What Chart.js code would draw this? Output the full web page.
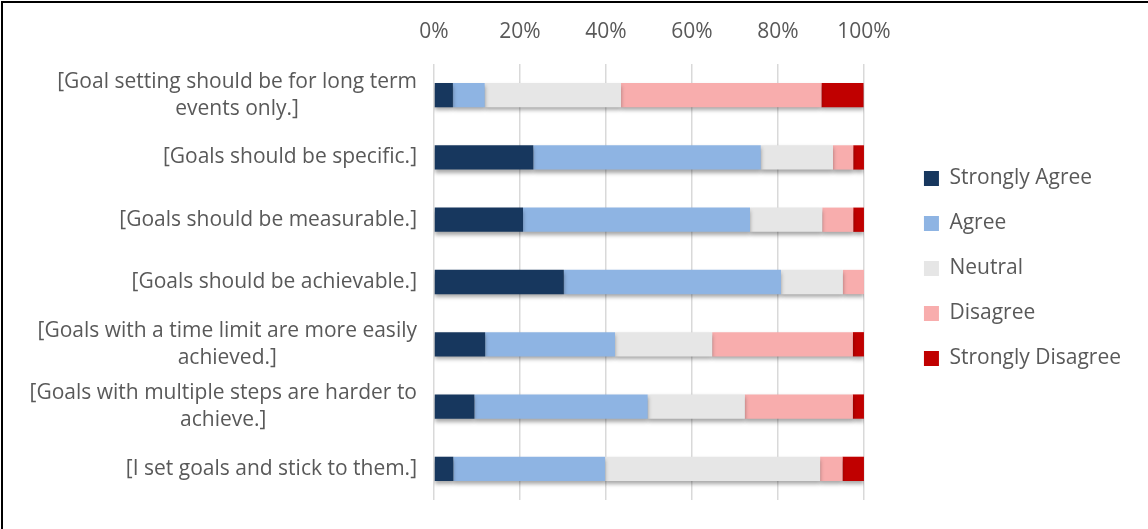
<!DOCTYPE html>
<html>
<head>
<meta charset="utf-8">
<script src="https://cdn.jsdelivr.net/npm/chart.js@4"></script>
<style>
    html, body { margin: 0; padding: 0; background: #fff; overflow: hidden; }
    #wrap { position: relative; width: 1148px; height: 529px; overflow: hidden; }
    #chart { position: absolute; left: 0; top: 0; }
    .edge { position: absolute; background: #000; pointer-events: none; }
    #edgeTop { left: 1px; top: 1px; width: 1147px; height: 2px; }
    #edgeLeft { left: 1px; top: 1px; width: 2px; height: 528px; }
</style>
</head>
<body>
<div id="wrap">
    <canvas id="chart" width="1148" height="529"></canvas>
    <div class="edge" id="edgeTop"></div>
    <div class="edge" id="edgeLeft"></div>
</div>
<script>
// Kysymykset (rivit), rivitetty kuten kuvassa
const questions = [
    ["[Goal setting should be for long term", "events only.]"],
    ["[Goals should be specific.]"],
    ["[Goals should be measurable.]"],
    ["[Goals should be achievable.]"],
    ["[Goals with a time limit are more easily", "achieved.]"],
    ["[Goals with multiple steps are harder to", "achieve.]"],
    ["[I set goals and stick to them.]"]
];

// Vastausosuudet prosentteina
const stronglyAgree    = [4.4, 23.1, 20.7, 30.2, 11.9, 9.4, 4.5];
const agree            = [7.4, 52.9, 52.8, 50.5, 30.2, 40.3, 35.3];
const neutral          = [31.7, 16.8, 16.8, 14.4, 22.6, 22.6, 50.0];
const disagree         = [46.6, 4.7, 7.2, 4.9, 32.7, 25.1, 5.2];
const stronglyDisagree = [9.8, 2.5, 2.5, 0, 2.6, 2.6, 5.0];

const xTicks = [0, 20, 40, 60, 80, 100];

const FONT = "Open Sans";
const FONT_SIZE = 21;
const TEXT = "#595959";

// Varjo palkkien alle
const shadowPlugin = {
    id: "barShadow",
    beforeDatasetsDraw(chart) {
        const ctx = chart.ctx;
        ctx.save();
        ctx.shadowColor = "rgba(0,0,0,0.35)";
        ctx.shadowBlur = 4;
        ctx.shadowOffsetX = 0;
        ctx.shadowOffsetY = 3;
    },
    afterDatasetsDraw(chart) {
        chart.ctx.restore();
    }
};

// Y-akselin tekstit: lohko oikealle, rivit keskitetty
const yLabelPlugin = {
    id: "yLabels",
    afterDraw(chart) {
        const ctx = chart.ctx;
        const scale = chart.scales.y;
        ctx.save();
        ctx.font = FONT_SIZE + "px '" + FONT + "'";
        ctx.fillStyle = TEXT;
        ctx.textAlign = "center";
        ctx.textBaseline = "middle";
        const right = chart.chartArea.left - 17;
        questions.forEach((lines, i) => {
            const y = scale.getPixelForTick(i);
            const widest = Math.max(...lines.map(l => ctx.measureText(l).width));
            const cx = right - widest / 2;
            lines.forEach((line, j) => {
                ctx.fillText(line, cx, y + (j - (lines.length - 1) / 2) * 27);
            });
        });
        ctx.restore();
    }
};

// Tyhjä apuakseli, joka vain varaa tilaa
const spacer = (pos, size) => ({
    type: "linear",
    position: pos,
    afterFit: s => {
        if (pos === "bottom") s.height = size; else s.width = size;
    },
    ticks: { display: false },
    grid: { display: false },
    border: { display: false }
});

new Chart(document.getElementById("chart"), {
    type: "bar",
    data: {
        labels: questions.map(q => q.join(" ")),
        datasets: [
            { label: "Strongly Agree", data: stronglyAgree, backgroundColor: "#17375E" },
            { label: "Agree", data: agree, backgroundColor: "#8EB4E3" },
            { label: "Neutral", data: neutral, backgroundColor: "#E6E6E6" },
            { label: "Disagree", data: disagree, backgroundColor: "#F8ADAD" },
            { label: "Strongly Disagree", data: stronglyDisagree, backgroundColor: "#C00000" }
        ]
    },
    options: {
        indexAxis: "y",
        responsive: false,
        animation: false,
        datasets: { bar: { categoryPercentage: 1, barPercentage: 0.39, borderWidth: 0 } },
        layout: { padding: { left: 0, right: 17, top: 8, bottom: 0 } },
        plugins: {
            tooltip: { enabled: false },
            legend: {
                position: "right",
                maxWidth: 300,
                labels: {
                    font: { family: FONT, size: FONT_SIZE },
                    color: TEXT,
                    boxWidth: 15,
                    boxHeight: 15,
                    padding: 24
                }
            }
        },
        scales: {
            x: {
                position: "top",
                stacked: true,
                min: 0,
                max: 100,
                afterBuildTicks: s => { s.ticks = xTicks.map(v => ({ value: v })); },
                afterFit: s => { s.height = 56; },
                ticks: {
                    callback: v => v + "%",
                    font: { family: FONT, size: FONT_SIZE },
                    color: TEXT,
                    padding: 19,
                    maxRotation: 0
                },
                grid: { color: "#D9D9D9", lineWidth: 1.5, drawTicks: false },
                border: { display: false }
            },
            y: {
                stacked: true,
                afterFit: s => { s.width = 434; },
                ticks: { display: false },
                grid: { display: false },
                border: { display: false }
            },
            y2: spacer("right", 36),
            x2: spacer("bottom", 29)
        }
    },
    plugins: [shadowPlugin, yLabelPlugin]
});
</script>
</body>
</html>
